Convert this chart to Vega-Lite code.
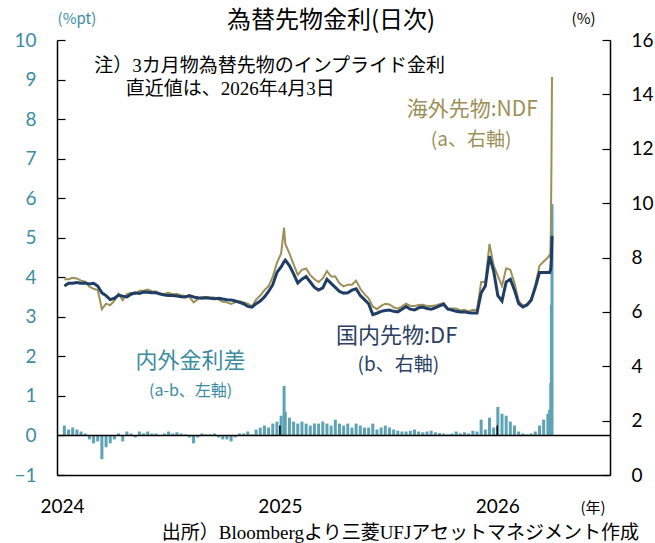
{
  "$schema": "https://vega.github.io/schema/vega-lite/v6.json",
  "width": 553,
  "height": 435,
  "autosize": "none",
  "padding": {"left": 57, "top": 40, "right": 45, "bottom": 68},
  "background": "white",
  "config": {
    "view": {"stroke": null},
    "axis": {"grid": false},
    "axisLeft": {"labelFont": "Lato", "labelFontSize": 19, "labelColor": "#3b8ca2", "tickSize": -8, "tickColor": "#000000", "tickWidth": 1.2, "labelPadding": 29, "domainColor": "#000000", "domainWidth": 1.5},
    "axisRight": {"labelFont": "Lato", "labelFontSize": 19, "labelColor": "#000000", "tickSize": -8, "tickColor": "#000000", "tickWidth": 1.2, "labelPadding": 29, "domainColor": "#000000", "domainWidth": 1.5}
  },
  "datasets": {
    "fx": [
      {"d":"2024-01-05","df":6.95,"ndf":7.20,"sp":0.25},
      {"d":"2024-01-12","df":7.05,"ndf":7.20,"sp":0.15},
      {"d":"2024-01-19","df":7.05,"ndf":7.25,"sp":0.20},
      {"d":"2024-01-26","df":7.08,"ndf":7.23,"sp":0.15},
      {"d":"2024-02-02","df":7.05,"ndf":7.15,"sp":0.10},
      {"d":"2024-02-09","df":7.06,"ndf":7.11,"sp":0.05},
      {"d":"2024-02-16","df":7.03,"ndf":6.93,"sp":-0.10},
      {"d":"2024-02-23","df":7.05,"ndf":6.85,"sp":-0.20},
      {"d":"2024-03-01","df":6.95,"ndf":6.80,"sp":-0.15},
      {"d":"2024-03-08","df":6.70,"ndf":6.10,"sp":-0.60},
      {"d":"2024-03-15","df":6.60,"ndf":6.30,"sp":-0.30},
      {"d":"2024-03-22","df":6.45,"ndf":6.25,"sp":-0.20},
      {"d":"2024-03-29","df":6.50,"ndf":6.40,"sp":-0.10},
      {"d":"2024-04-05","df":6.62,"ndf":6.67,"sp":0.05},
      {"d":"2024-04-12","df":6.58,"ndf":6.43,"sp":-0.15},
      {"d":"2024-04-19","df":6.55,"ndf":6.65,"sp":0.10},
      {"d":"2024-04-26","df":6.65,"ndf":6.70,"sp":0.05},
      {"d":"2024-05-03","df":6.70,"ndf":6.65,"sp":-0.05},
      {"d":"2024-05-10","df":6.68,"ndf":6.78,"sp":0.10},
      {"d":"2024-05-17","df":6.73,"ndf":6.78,"sp":0.05},
      {"d":"2024-05-24","df":6.72,"ndf":6.82,"sp":0.10},
      {"d":"2024-05-31","df":6.70,"ndf":6.75,"sp":0.05},
      {"d":"2024-06-07","df":6.70,"ndf":6.75,"sp":0.05},
      {"d":"2024-06-14","df":6.66,"ndf":6.66,"sp":0.00},
      {"d":"2024-06-21","df":6.62,"ndf":6.67,"sp":0.05},
      {"d":"2024-06-28","df":6.60,"ndf":6.70,"sp":0.10},
      {"d":"2024-07-05","df":6.60,"ndf":6.65,"sp":0.05},
      {"d":"2024-07-12","df":6.58,"ndf":6.66,"sp":0.08},
      {"d":"2024-07-19","df":6.56,"ndf":6.61,"sp":0.05},
      {"d":"2024-07-26","df":6.55,"ndf":6.58,"sp":0.03},
      {"d":"2024-08-02","df":6.60,"ndf":6.55,"sp":-0.05},
      {"d":"2024-08-09","df":6.55,"ndf":6.35,"sp":-0.20},
      {"d":"2024-08-16","df":6.52,"ndf":6.47,"sp":-0.05},
      {"d":"2024-08-23","df":6.50,"ndf":6.55,"sp":0.05},
      {"d":"2024-08-30","df":6.52,"ndf":6.55,"sp":0.03},
      {"d":"2024-09-06","df":6.50,"ndf":6.53,"sp":0.03},
      {"d":"2024-09-13","df":6.48,"ndf":6.53,"sp":0.05},
      {"d":"2024-09-20","df":6.50,"ndf":6.45,"sp":-0.05},
      {"d":"2024-09-27","df":6.47,"ndf":6.37,"sp":-0.10},
      {"d":"2024-10-04","df":6.45,"ndf":6.35,"sp":-0.10},
      {"d":"2024-10-11","df":6.44,"ndf":6.29,"sp":-0.15},
      {"d":"2024-10-18","df":6.40,"ndf":6.35,"sp":-0.05},
      {"d":"2024-10-25","df":6.35,"ndf":6.40,"sp":0.05},
      {"d":"2024-11-01","df":6.30,"ndf":6.35,"sp":0.05},
      {"d":"2024-11-08","df":6.20,"ndf":6.30,"sp":0.10},
      {"d":"2024-11-15","df":6.17,"ndf":6.20,"sp":0.03},
      {"d":"2024-11-22","df":6.30,"ndf":6.45,"sp":0.15},
      {"d":"2024-11-29","df":6.40,"ndf":6.60,"sp":0.20},
      {"d":"2024-12-06","df":6.55,"ndf":6.80,"sp":0.25},
      {"d":"2024-12-13","df":6.75,"ndf":6.95,"sp":0.20},
      {"d":"2024-12-20","df":7.00,"ndf":7.30,"sp":0.30},
      {"d":"2024-12-27","df":7.45,"ndf":7.80,"sp":0.35},
      {"d":"2025-01-03","df":7.65,"ndf":8.15,"sp":0.50},
      {"d":"2025-01-08","df":7.85,"ndf":9.10,"sp":1.25},
      {"d":"2025-01-10","df":7.90,"ndf":8.50,"sp":0.60},
      {"d":"2025-01-17","df":7.70,"ndf":8.15,"sp":0.45},
      {"d":"2025-01-24","df":7.40,"ndf":7.75,"sp":0.35},
      {"d":"2025-01-31","df":7.06,"ndf":7.36,"sp":0.30},
      {"d":"2025-02-07","df":7.20,"ndf":7.55,"sp":0.35},
      {"d":"2025-02-14","df":7.30,"ndf":7.60,"sp":0.30},
      {"d":"2025-02-21","df":7.10,"ndf":7.35,"sp":0.25},
      {"d":"2025-02-28","df":6.90,"ndf":7.20,"sp":0.30},
      {"d":"2025-03-07","df":6.80,"ndf":7.10,"sp":0.30},
      {"d":"2025-03-14","df":6.88,"ndf":7.23,"sp":0.35},
      {"d":"2025-03-21","df":7.20,"ndf":7.50,"sp":0.30},
      {"d":"2025-03-28","df":7.05,"ndf":7.30,"sp":0.25},
      {"d":"2025-04-04","df":6.90,"ndf":7.30,"sp":0.40},
      {"d":"2025-04-11","df":6.75,"ndf":7.05,"sp":0.30},
      {"d":"2025-04-18","df":6.69,"ndf":6.94,"sp":0.25},
      {"d":"2025-04-25","df":6.70,"ndf":7.00,"sp":0.30},
      {"d":"2025-05-02","df":6.80,"ndf":7.00,"sp":0.20},
      {"d":"2025-05-09","df":6.85,"ndf":7.15,"sp":0.30},
      {"d":"2025-05-16","df":6.60,"ndf":6.85,"sp":0.25},
      {"d":"2025-05-23","df":6.45,"ndf":6.65,"sp":0.20},
      {"d":"2025-05-30","df":6.30,"ndf":6.50,"sp":0.20},
      {"d":"2025-06-06","df":5.90,"ndf":6.20,"sp":0.30},
      {"d":"2025-06-13","df":5.95,"ndf":6.10,"sp":0.15},
      {"d":"2025-06-20","df":6.02,"ndf":6.22,"sp":0.20},
      {"d":"2025-06-27","df":6.05,"ndf":6.30,"sp":0.25},
      {"d":"2025-07-04","df":6.07,"ndf":6.27,"sp":0.20},
      {"d":"2025-07-11","df":6.02,"ndf":6.17,"sp":0.15},
      {"d":"2025-07-18","df":6.00,"ndf":6.12,"sp":0.12},
      {"d":"2025-07-25","df":6.10,"ndf":6.20,"sp":0.10},
      {"d":"2025-08-01","df":6.20,"ndf":6.30,"sp":0.10},
      {"d":"2025-08-08","df":6.10,"ndf":6.22,"sp":0.12},
      {"d":"2025-08-15","df":6.07,"ndf":6.22,"sp":0.15},
      {"d":"2025-08-22","df":6.15,"ndf":6.25,"sp":0.10},
      {"d":"2025-08-29","df":6.18,"ndf":6.26,"sp":0.08},
      {"d":"2025-09-05","df":6.12,"ndf":6.22,"sp":0.10},
      {"d":"2025-09-12","df":6.10,"ndf":6.22,"sp":0.12},
      {"d":"2025-09-19","df":6.15,"ndf":6.23,"sp":0.08},
      {"d":"2025-09-26","df":6.22,"ndf":6.28,"sp":0.06},
      {"d":"2025-10-03","df":6.28,"ndf":6.33,"sp":0.05},
      {"d":"2025-10-10","df":6.10,"ndf":6.13,"sp":0.03},
      {"d":"2025-10-17","df":6.07,"ndf":6.12,"sp":0.05},
      {"d":"2025-10-24","df":6.02,"ndf":6.12,"sp":0.10},
      {"d":"2025-10-31","df":6.00,"ndf":6.05,"sp":0.05},
      {"d":"2025-11-07","df":6.00,"ndf":6.08,"sp":0.08},
      {"d":"2025-11-14","df":5.97,"ndf":6.02,"sp":0.05},
      {"d":"2025-11-21","df":5.96,"ndf":6.08,"sp":0.12},
      {"d":"2025-11-28","df":5.96,"ndf":6.06,"sp":0.10},
      {"d":"2025-12-05","df":6.70,"ndf":7.10,"sp":0.40},
      {"d":"2025-12-12","df":6.95,"ndf":7.10,"sp":0.15},
      {"d":"2025-12-19","df":8.05,"ndf":8.50,"sp":0.45},
      {"d":"2025-12-26","df":7.50,"ndf":7.70,"sp":0.20},
      {"d":"2026-01-02","df":6.60,"ndf":7.32,"sp":0.72},
      {"d":"2026-01-09","df":6.40,"ndf":6.95,"sp":0.55},
      {"d":"2026-01-16","df":7.10,"ndf":7.60,"sp":0.50},
      {"d":"2026-01-23","df":7.20,"ndf":7.55,"sp":0.35},
      {"d":"2026-01-30","df":6.80,"ndf":7.05,"sp":0.25},
      {"d":"2026-02-06","df":6.30,"ndf":6.40,"sp":0.10},
      {"d":"2026-02-13","df":6.18,"ndf":6.23,"sp":0.05},
      {"d":"2026-02-20","df":6.25,"ndf":6.28,"sp":0.03},
      {"d":"2026-02-27","df":6.43,"ndf":6.48,"sp":0.05},
      {"d":"2026-03-06","df":6.90,"ndf":7.00,"sp":0.10},
      {"d":"2026-03-13","df":7.45,"ndf":7.70,"sp":0.25},
      {"d":"2026-03-20","df":7.45,"ndf":7.85,"sp":0.40},
      {"d":"2026-03-27","df":7.45,"ndf":8.00,"sp":0.55},
      {"d":"2026-03-30","df":7.45,"ndf":8.10,"sp":0.65},
      {"d":"2026-03-31","df":7.50,"ndf":8.00,"sp":0.50},
      {"d":"2026-04-01","df":7.60,"ndf":8.93,"sp":1.33},
      {"d":"2026-04-02","df":8.00,"ndf":11.30,"sp":3.30},
      {"d":"2026-04-03","df":8.80,"ndf":14.65,"sp":5.85}
    ]
  },
  "layer": [
    {
      "layer": [
        {
          "data": {"name": "fx"},
          "mark": {"type": "bar", "color": "#5ea3b5", "size": 3},
          "encoding": {
            "x": {"field": "d", "type": "temporal",
              "scale": {"type": "utc", "domain": [{"year": 2024, "month": 1, "date": 1, "utc": true}, {"year": 2026, "month": 7, "date": 1, "utc": true}]},
              "axis": {"orient": "bottom", "title": null, "values": [{"year": 2024, "month": 1, "date": 1, "utc": true}, {"year": 2025, "month": 1, "date": 1, "utc": true}, {"year": 2026, "month": 1, "date": 1, "utc": true}],
                "format": "%Y", "ticks": false, "labelFlush": false, "labelOverlap": false, "labelBound": false,
                "labelFont": "Lato", "labelFontSize": 19, "labelColor": "#000000", "labelPadding": 22,
                "domainColor": "#000000", "domainWidth": 1.5}},
            "y": {"field": "sp", "type": "quantitative",
              "scale": {"domain": [-1, 10], "nice": false, "zero": false},
              "axis": {"orient": "left", "title": null, "values": [-1,0,1,2,3,4,5,6,7,8,9,10]}},
            "y2": {"datum": 0}
          }
        },
        {
          "data": {"values": [{"z": 0}]},
          "mark": {"type": "rule", "color": "#000000", "strokeWidth": 1.5},
          "encoding": {"y": {"field": "z", "type": "quantitative", "scale": {"domain": [-1, 10], "nice": false, "zero": false}, "axis": {"orient": "left", "title": null, "values": [-1,0,1,2,3,4,5,6,7,8,9,10]}}}
        },
        {
          "data": {"values": [{"d": "2025-01-01", "a": 0, "b": 0.25}, {"d": "2026-01-01", "a": 0, "b": 0.25}]},
          "mark": {"type": "rule", "color": "#000000", "strokeWidth": 1.5},
          "encoding": {
            "x": {"field": "d", "type": "temporal"},
            "y": {"field": "a", "type": "quantitative", "scale": {"domain": [-1, 10], "nice": false, "zero": false}, "axis": {"orient": "left", "title": null, "values": [-1,0,1,2,3,4,5,6,7,8,9,10]}},
            "y2": {"field": "b"}
          }
        },
        {
          "data": {"values": [
            {"d": "2025-03-28", "v": 10.47, "t": "為替先物金利(日次)", "s": 24, "c": "k"},
            {"d": "2024-01-26", "v": 10.52, "t": "(%pt)", "s": 15, "c": "t"},
            {"d": "2024-08-04", "v": 1.13, "t": "(a-b、左軸)", "s": 16, "c": "t"},
            {"d": "2024-08-04", "v": 1.89, "t": "内外金利差", "s": 22, "c": "t"},
            {"d": "2025-07-16", "v": 2.52, "t": "国内先物:DF", "s": 22, "c": "n"},
            {"d": "2025-07-19", "v": 1.78, "t": "(b、右軸)", "s": 19, "c": "n"},
            {"d": "2025-11-20", "v": 8.24, "t": "海外先物:NDF", "s": 21, "c": "o"},
            {"d": "2025-11-18", "v": 7.48, "t": "(a、右軸)", "s": 19, "c": "o"},
            {"d": "2026-06-11", "v": -1.84, "t": "(年)", "s": 15, "c": "k"},
            {"d": "2026-05-26", "v": 10.52, "t": "(%)", "s": 15, "c": "k"}
          ]},
          "mark": {"type": "text", "font": "Noto Sans CJK JP", "align": "center", "baseline": "middle"},
          "encoding": {
            "x": {"field": "d", "type": "temporal"},
            "y": {"field": "v", "type": "quantitative", "scale": {"domain": [-1, 10], "nice": false, "zero": false}, "axis": {"orient": "left", "title": null, "values": [-1,0,1,2,3,4,5,6,7,8,9,10]}},
            "text": {"field": "t"},
            "size": {"field": "s", "type": "quantitative", "scale": null, "legend": null},
            "color": {"field": "c", "type": "nominal", "scale": {"domain": ["k", "t", "n", "o"], "range": ["#000000", "#3b8ca2", "#2b3f63", "#9c8f57"]}, "legend": null}
          }
        },
        {
          "data": {"values": [
            {"d": "2024-02-24", "v": 9.35, "t": "注）3カ月物為替先物のインプライド金利"},
            {"d": "2024-04-17", "v": 8.75, "t": "直近値は、2026年4月3日"}
          ]},
          "mark": {"type": "text", "font": "Liberation Serif, Noto Sans CJK JP", "fontSize": 19, "color": "#000000", "align": "left", "baseline": "middle"},
          "encoding": {"x": {"field": "d", "type": "temporal"}, "y": {"field": "v", "type": "quantitative", "scale": {"domain": [-1, 10], "nice": false, "zero": false}, "axis": {"orient": "left", "title": null, "values": [-1,0,1,2,3,4,5,6,7,8,9,10]}}, "text": {"field": "t"}}
        },
        {
          "data": {"values": [
            {"d": "2026-08-27", "v": -2.47, "t": "出所）Bloombergより三菱UFJアセットマネジメント作成"}
          ]},
          "mark": {"type": "text", "font": "Liberation Serif, Noto Sans CJK JP", "fontSize": 19, "color": "#000000", "align": "right", "baseline": "middle"},
          "encoding": {"x": {"field": "d", "type": "temporal"}, "y": {"field": "v", "type": "quantitative", "scale": {"domain": [-1, 10], "nice": false, "zero": false}, "axis": {"orient": "left", "title": null, "values": [-1,0,1,2,3,4,5,6,7,8,9,10]}}, "text": {"field": "t"}}
        }
      ]
    },
    {
      "data": {"name": "fx"},
      "layer": [
        {
          "mark": {"type": "line", "color": "#9c8f57", "strokeWidth": 2},
          "encoding": {
            "x": {"field": "d", "type": "temporal"},
            "y": {"field": "ndf", "type": "quantitative",
              "scale": {"domain": [0, 16], "nice": false},
              "axis": {"orient": "right", "title": null, "values": [0,2,4,6,8,10,12,14,16]}}
          }
        },
        {
          "mark": {"type": "line", "color": "#203d66", "strokeWidth": 3},
          "encoding": {
            "x": {"field": "d", "type": "temporal"},
            "y": {"field": "df", "type": "quantitative", "scale": {"domain": [0, 16], "nice": false},
              "axis": {"orient": "right", "title": null, "values": [0,2,4,6,8,10,12,14,16]}}
          }
        }
      ]
    }
  ],
  "resolve": {"scale": {"y": "independent"}}
}
